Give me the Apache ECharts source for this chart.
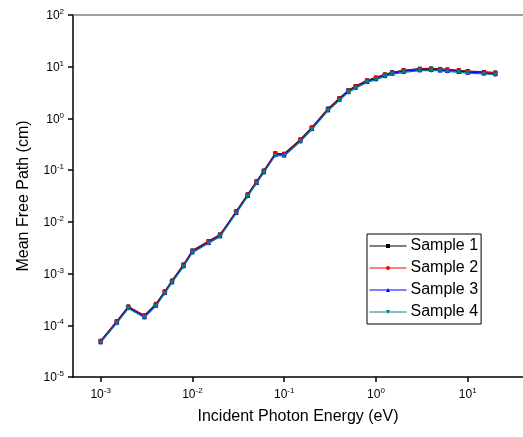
<!DOCTYPE html>
<html>
<head>
<meta charset="utf-8">
<script src="https://cdn.jsdelivr.net/npm/echarts@6/dist/echarts.min.js"></script>
<style>
html,body{margin:0;padding:0;background:#fff;}
#chart{width:523px;height:437px;}
</style>
</head>
<body>
<div id="chart"></div>
<script>
// Incident photon energy (x) values
const energies = [0.001,0.0015,0.002,0.003,0.004,0.005,0.006,0.008,0.01,0.015,0.02,0.03,0.04,0.05,0.06,0.08,0.1,0.15,0.2,0.3,0.4,0.5,0.6,0.8,1,1.25,1.5,2,3,4,5,6,8,10,15,20];
const seriesNames = ['Sample 1','Sample 2','Sample 3','Sample 4'];
// Mean free path (cm) per sample
const sample1 = [5.0e-5,1.2e-4,2.3e-4,1.55e-4,2.6e-4,4.55e-4,7.3e-4,1.5e-3,2.8e-3,4.25e-3,5.7e-3,0.016,0.034,0.061,0.098,0.212,0.207,0.392,0.67,1.55,2.47,3.5,4.22,5.45,6.18,7.1,7.82,8.55,9.15,9.25,9.05,8.85,8.55,8.24,7.93,7.72];
const sample2 = [4.95e-5,1.18e-4,2.27e-4,1.52e-4,2.53e-4,4.45e-4,7.2e-4,1.47e-3,2.73e-3,4.15e-3,5.58e-3,0.0157,0.0334,0.0597,0.096,0.207,0.202,0.384,0.657,1.52,2.42,3.43,4.14,5.35,6.06,6.97,7.67,8.38,8.98,9.08,8.88,8.68,8.38,8.08,7.77,7.57];
const sample3 = [4.8e-5,1.15e-4,2.2e-4,1.47e-4,2.45e-4,4.3e-4,6.95e-4,1.42e-3,2.64e-3,4.0e-3,5.38e-3,0.0152,0.0323,0.0578,0.093,0.2,0.196,0.372,0.636,1.47,2.35,3.33,4.01,5.19,5.87,6.75,7.44,8.12,8.7,8.8,8.6,8.42,8.12,7.83,7.53,7.33];
const sample4 = [4.6e-5,1.1e-4,2.11e-4,1.41e-4,2.35e-4,4.13e-4,6.67e-4,1.36e-3,2.53e-3,3.85e-3,5.17e-3,0.0146,0.031,0.0555,0.089,0.192,0.188,0.357,0.61,1.41,2.25,3.19,3.85,4.98,5.63,6.48,7.13,7.79,8.35,8.45,8.26,8.08,7.79,7.51,7.23,7.03];
const xMin = 0.0005, xMax = 40;
const yMin = 1e-5, yMax = 100;

const colors = ['#000000','#ff0000','#0000ff','#008080'];
const symbols = ['rect','circle','triangle','path://M0,0 L10,0 L5,10 Z'];
const allSamples = [sample1, sample2, sample3, sample4];

const FONT = 'Liberation Sans, Arial, sans-serif';
function powLabel(v){
  const e = Math.round(Math.log10(v));
  return '{b|10}{s|' + e + '}';
}
const richLbl = {
  b: {fontSize: 12, fontFamily: FONT, color: '#000', lineHeight: 14, verticalAlign: 'bottom'},
  s: {fontSize: 8, fontFamily: FONT, color: '#000', lineHeight: 14, verticalAlign: 'top', padding:[0,0,0,0]}
};

const chart = echarts.init(document.getElementById('chart'), null, {renderer:'canvas'});
chart.setOption({
  animation: false,
  backgroundColor: '#fff',
  grid: {left: 73, right: 0, top: 15, bottom: 60, containLabel: false},
  legend: {
    orient: 'vertical', left: 367, top: 234,
    data: seriesNames,
    itemWidth: 37, itemHeight: 5, itemGap: 6,
    borderColor: '#000', borderWidth: 1, borderRadius: 0,
    padding: [4, 3, 4, 2],
    lineStyle: {width: 1},
    textStyle: {fontSize: 16, fontFamily: FONT, color: '#000', padding:[0,0,0,-1]}
  },
  xAxis: [{
    type: 'log', min: xMin, max: xMax, logBase: 10,
    name: 'Incident Photon Energy (eV)', nameLocation: 'middle', nameGap: 32,
    nameTextStyle: {fontSize: 16, fontFamily: FONT, color: '#000'},
    axisLine: {lineStyle: {color: '#000', width: 1.5}},
    axisTick: {inside: false, length: 5, lineStyle: {color:'#000', width: 1.5}},
    axisLabel: {formatter: powLabel, rich: richLbl, margin: 10, showMinLabel: false, showMaxLabel: false},
    splitLine: {show: false}, minorTick: {show: false}
  },{
    type: 'log', min: xMin, max: xMax, position: 'top',
    axisLine: {show: true, lineStyle: {color: '#808080', width: 1.5}},
    axisTick: {show: false}, axisLabel: {show: false}, splitLine: {show: false}
  }],
  yAxis: {
    type: 'log', min: yMin, max: yMax, interval: 1, logBase: 10,
    name: 'Mean Free Path (cm)', nameLocation: 'middle', nameGap: 41,
    nameTextStyle: {fontSize: 16, fontFamily: FONT, color: '#000'},
    axisLine: {show: true, lineStyle: {color: '#000', width: 1.5}},
    axisTick: {inside: false, length: 5, lineStyle: {color:'#000', width: 1.5}},
    axisLabel: {formatter: powLabel, rich: richLbl, margin: 9},
    splitLine: {show: false}
  },
  series: allSamples.map((arr, i) => ({
    name: seriesNames[i],
    type: 'line',
    data: energies.map((e, j) => [e, arr[j]]),
    symbol: symbols[i],
    symbolSize: i === 0 ? 4 : 5,
    showAllSymbol: true,
    lineStyle: {color: colors[i], width: 1.2},
    itemStyle: {color: colors[i]},
    z: 2 + i
  }))
});
</script>
</body>
</html>
